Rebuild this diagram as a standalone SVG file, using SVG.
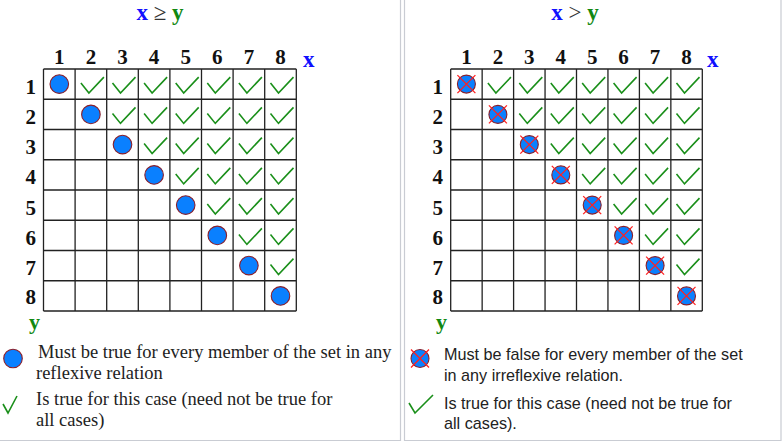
<svg xmlns="http://www.w3.org/2000/svg" xmlns:xlink="http://www.w3.org/1999/xlink" width="784" height="441" viewBox="0 0 784 441">
<style>
.frame{fill:none;stroke:#c9ccd3;stroke-width:1.2}
.grid{fill:none;stroke:#222;stroke-width:1.3}
.num{font-family:"Liberation Serif",serif;font-weight:bold;font-size:21px;fill:#111}
.ttl{font-family:"Liberation Serif",serif;font-weight:bold;font-size:23px}
.bx{fill:#1010ff}
.gy{fill:#118811}
.op{fill:#333;font-weight:normal}
.legs{font-family:"Liberation Serif",serif;font-size:18.5px;fill:#222}
.lega{font-family:"Liberation Sans",Arial,sans-serif;font-size:16.2px;fill:#222}
.lchk{fill:none;stroke:#1a8f1a;stroke-width:1.6}
</style>
<defs>
<path id="chk" d="M-10,-1 L-2,9 L13,-7" fill="none" stroke="#1a8f1a" stroke-width="1.6"/>
<circle id="dot" r="9.3" fill="#0a80ff" stroke="#8b1f2a" stroke-width="1.1"/>
<g id="xdot">
<circle r="9" fill="#0a80ff" stroke="#8b1f2a" stroke-width="1.1"/>
<path d="M-9,-9 L9,9 M9,-9 L-9,9" stroke="#ff2020" stroke-width="1.3"/>
</g>
</defs>
<rect width="784" height="441" fill="#fff"/>
<path class="frame" d="M400.5,0 V440.5 H0 M404.5,0 V440.5 H781 V0"/>

<g id="left-panel">
<text class="ttl" x="160" y="20" text-anchor="middle"><tspan class="bx">x</tspan><tspan class="op"> ≥ </tspan><tspan class="gy">y</tspan></text>
<g id="left-grid">
<path class="grid" d="M43.5,69 H296.3 M43.5,99.25 H296.3 M43.5,129.5 H296.3 M43.5,159.75 H296.3 M43.5,190 H296.3 M43.5,220.25 H296.3 M43.5,250.5 H296.3 M43.5,280.75 H296.3 M43.5,311 H296.3 M43.5,69 V311 M75.1,69 V311 M106.7,69 V311 M138.3,69 V311 M169.9,69 V311 M201.5,69 V311 M233.1,69 V311 M264.7,69 V311 M296.3,69 V311"/>
</g>
<g class="num" text-anchor="middle">
<text x="59.3" y="64">1</text><text x="90.9" y="64">2</text><text x="122.5" y="64">3</text><text x="154.1" y="64">4</text><text x="185.7" y="64">5</text><text x="217.3" y="64">6</text><text x="248.9" y="64">7</text><text x="280.5" y="64">8</text>
</g>
<g class="num" text-anchor="end">
<text x="36" y="94">1</text><text x="36" y="124">2</text><text x="36" y="154">3</text><text x="36" y="184">4</text><text x="36" y="215">5</text><text x="36" y="245">6</text><text x="36" y="275">7</text><text x="36" y="304">8</text>
</g>
<text class="num bx" x="303" y="67" style="font-size:23px">x</text>
<text class="num gy" x="29" y="329" style="font-size:22px">y</text>
<g id="left-marks">
<use xlink:href="#dot" x="59.3" y="84.1"/><use xlink:href="#dot" x="90.9" y="114.4"/><use xlink:href="#dot" x="122.5" y="144.6"/><use xlink:href="#dot" x="154.1" y="174.9"/><use xlink:href="#dot" x="185.7" y="205.1"/><use xlink:href="#dot" x="217.3" y="235.4"/><use xlink:href="#dot" x="248.9" y="265.6"/><use xlink:href="#dot" x="280.5" y="295.9"/>
<use xlink:href="#chk" x="90.9" y="84.1"/><use xlink:href="#chk" x="122.5" y="84.1"/><use xlink:href="#chk" x="154.1" y="84.1"/><use xlink:href="#chk" x="185.7" y="84.1"/><use xlink:href="#chk" x="217.3" y="84.1"/><use xlink:href="#chk" x="248.9" y="84.1"/><use xlink:href="#chk" x="280.5" y="84.1"/>
<use xlink:href="#chk" x="122.5" y="114.4"/><use xlink:href="#chk" x="154.1" y="114.4"/><use xlink:href="#chk" x="185.7" y="114.4"/><use xlink:href="#chk" x="217.3" y="114.4"/><use xlink:href="#chk" x="248.9" y="114.4"/><use xlink:href="#chk" x="280.5" y="114.4"/>
<use xlink:href="#chk" x="154.1" y="144.6"/><use xlink:href="#chk" x="185.7" y="144.6"/><use xlink:href="#chk" x="217.3" y="144.6"/><use xlink:href="#chk" x="248.9" y="144.6"/><use xlink:href="#chk" x="280.5" y="144.6"/>
<use xlink:href="#chk" x="185.7" y="174.9"/><use xlink:href="#chk" x="217.3" y="174.9"/><use xlink:href="#chk" x="248.9" y="174.9"/><use xlink:href="#chk" x="280.5" y="174.9"/>
<use xlink:href="#chk" x="217.3" y="205.1"/><use xlink:href="#chk" x="248.9" y="205.1"/><use xlink:href="#chk" x="280.5" y="205.1"/>
<use xlink:href="#chk" x="248.9" y="235.4"/><use xlink:href="#chk" x="280.5" y="235.4"/>
<use xlink:href="#chk" x="280.5" y="265.6"/>
</g>
<g id="left-legend">
<use xlink:href="#dot" x="13" y="358.5"/>
<text class="legs" x="38" y="358">Must be true for every member of the set in any</text>
<text class="legs" x="36" y="379">reflexive relation</text>
<path class="lchk" d="M3,404 L8,413 L17,396"/>
<text class="legs" x="36" y="405">Is true for this case (need not be true for</text>
<text class="legs" x="36" y="426">all cases)</text>
</g>
</g>

<g id="right-panel">
<text class="ttl" x="575" y="20" text-anchor="middle"><tspan class="bx">x</tspan><tspan class="op"> &gt; </tspan><tspan class="gy">y</tspan></text>
<g id="right-grid">
<path class="grid" d="M450.7,69 H702.3 M450.7,99.25 H702.3 M450.7,129.5 H702.3 M450.7,159.75 H702.3 M450.7,190 H702.3 M450.7,220.25 H702.3 M450.7,250.5 H702.3 M450.7,280.75 H702.3 M450.7,311 H702.3 M450.7,69 V311 M482.15,69 V311 M513.6,69 V311 M545.05,69 V311 M576.5,69 V311 M607.95,69 V311 M639.4,69 V311 M670.85,69 V311 M702.3,69 V311"/>
</g>
<g class="num" text-anchor="middle">
<text x="466.4" y="64">1</text><text x="497.9" y="64">2</text><text x="529.3" y="64">3</text><text x="560.8" y="64">4</text><text x="592.2" y="64">5</text><text x="623.6" y="64">6</text><text x="655.1" y="64">7</text><text x="686.5" y="64">8</text>
</g>
<g class="num" text-anchor="end">
<text x="443" y="94">1</text><text x="443" y="124">2</text><text x="443" y="154">3</text><text x="443" y="184">4</text><text x="443" y="215">5</text><text x="443" y="245">6</text><text x="443" y="275">7</text><text x="443" y="304">8</text>
</g>
<text class="num bx" x="707" y="67" style="font-size:23px">x</text>
<text class="num gy" x="436" y="329" style="font-size:22px">y</text>
<g id="right-marks">
<use xlink:href="#xdot" x="466.4" y="84.1"/><use xlink:href="#xdot" x="497.9" y="114.4"/><use xlink:href="#xdot" x="529.3" y="144.6"/><use xlink:href="#xdot" x="560.8" y="174.9"/><use xlink:href="#xdot" x="592.2" y="205.1"/><use xlink:href="#xdot" x="623.6" y="235.4"/><use xlink:href="#xdot" x="655.1" y="265.6"/><use xlink:href="#xdot" x="686.5" y="295.9"/>
<use xlink:href="#chk" x="497.9" y="84.1"/><use xlink:href="#chk" x="529.3" y="84.1"/><use xlink:href="#chk" x="560.8" y="84.1"/><use xlink:href="#chk" x="592.2" y="84.1"/><use xlink:href="#chk" x="623.6" y="84.1"/><use xlink:href="#chk" x="655.1" y="84.1"/><use xlink:href="#chk" x="686.5" y="84.1"/>
<use xlink:href="#chk" x="529.3" y="114.4"/><use xlink:href="#chk" x="560.8" y="114.4"/><use xlink:href="#chk" x="592.2" y="114.4"/><use xlink:href="#chk" x="623.6" y="114.4"/><use xlink:href="#chk" x="655.1" y="114.4"/><use xlink:href="#chk" x="686.5" y="114.4"/>
<use xlink:href="#chk" x="560.8" y="144.6"/><use xlink:href="#chk" x="592.2" y="144.6"/><use xlink:href="#chk" x="623.6" y="144.6"/><use xlink:href="#chk" x="655.1" y="144.6"/><use xlink:href="#chk" x="686.5" y="144.6"/>
<use xlink:href="#chk" x="592.2" y="174.9"/><use xlink:href="#chk" x="623.6" y="174.9"/><use xlink:href="#chk" x="655.1" y="174.9"/><use xlink:href="#chk" x="686.5" y="174.9"/>
<use xlink:href="#chk" x="623.6" y="205.1"/><use xlink:href="#chk" x="655.1" y="205.1"/><use xlink:href="#chk" x="686.5" y="205.1"/>
<use xlink:href="#chk" x="655.1" y="235.4"/><use xlink:href="#chk" x="686.5" y="235.4"/>
<use xlink:href="#chk" x="686.5" y="265.6"/>
</g>
<g id="right-legend">
<use xlink:href="#xdot" x="420" y="358.5"/>
<text class="lega" x="444" y="360">Must be false for every member of the set</text>
<text class="lega" x="444" y="381">in any irreflexive relation.</text>
<path class="lchk" d="M409,403 L415,413 L433,395"/>
<text class="lega" x="444" y="409">Is true for this case (need not be true for</text>
<text class="lega" x="444" y="429">all cases).</text>
</g>
</g>
</svg>
